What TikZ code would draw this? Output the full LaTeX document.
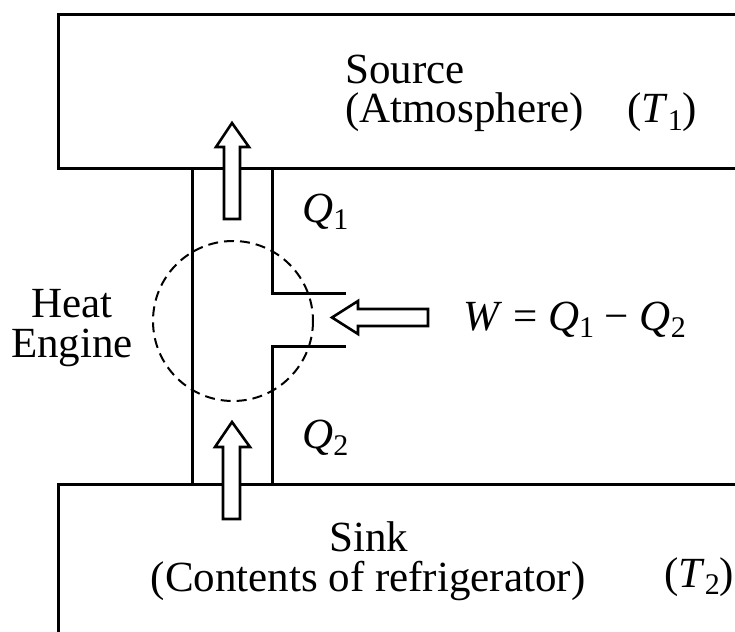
\documentclass[tikz,border=0pt]{standalone}
\usepackage{fontspec}
\setmainfont{Liberation Serif}
\newcommand{\sbs}[1]{\raisebox{-0.17em}{\fontsize{30}{30}\selectfont #1}}
\begin{document}
\begin{tikzpicture}[x=1pt,y=-1pt,
  wall/.style={line width=3pt, line cap=rect},
  blockarrow/.style={line width=2.6pt, fill=white, line join=miter},
  lbl/.style={inner sep=0pt, font=\fontsize{43}{43}\selectfont}]
\useasboundingbox (0,0) rectangle (735,631);
\clip (0,0) rectangle (735,631);
% source reservoir
\draw[wall] (740,15) -- (58,15) -- (58,168) -- (740,168);
% sink reservoir
\draw[wall] (740,484) -- (58,484) -- (58,640);
% heat engine channel
\draw[wall] (192,168) -- (192,484);
\draw[wall] (272,168) -- (272,293) -- (344,293);
\draw[wall] (344,346) -- (272,346) -- (272,484);
% dashed engine boundary
\draw[line width=2pt, dash pattern=on 10pt off 6pt] (233,321) circle (80);
% block arrows
\draw[blockarrow] (224,219) -- (224,147) -- (216,147) -- (232,123) -- (249,147) -- (240,147) -- (240,219) -- cycle;
\draw[blockarrow] (223,519) -- (223,447) -- (215,447) -- (232,422) -- (250,447) -- (240,447) -- (240,519) -- cycle;
\draw[blockarrow] (428,309) -- (358,309) -- (358,301) -- (332,317.5) -- (358,334) -- (358,326) -- (428,326) -- cycle;
% labels
\node[lbl, anchor=base west] (src1) at (345,84) {Source};
\node[lbl, anchor=base west] (src2) at (345,123) {(Atmosphere)};
\node[lbl, anchor=base west] (t1) at (627,123) {(\textit{T}\sbs{1})};
\node[lbl, anchor=base] (he1) at (72,317) {Heat};
\node[lbl, anchor=base] (he2) at (72,357) {Engine};
\node[lbl, anchor=base west] (q1) at (302,222) {\textit{Q}\sbs{1}};
\node[lbl, anchor=base west] (q2) at (302,448) {\textit{Q}\sbs{2}};
\node[lbl, anchor=base west] (w) at (463,330) {\textit{W} = \textit{Q}\sbs{1} − \textit{Q}\sbs{2}};
\node[lbl, anchor=base] (sink1) at (369,551) {Sink};
\node[lbl, anchor=base] (sink2) at (368,591) {(Contents of refrigerator)};
\node[lbl, anchor=base west] (t2) at (664,587) {(\textit{T}\sbs{2})};
\end{tikzpicture}
\end{document}
